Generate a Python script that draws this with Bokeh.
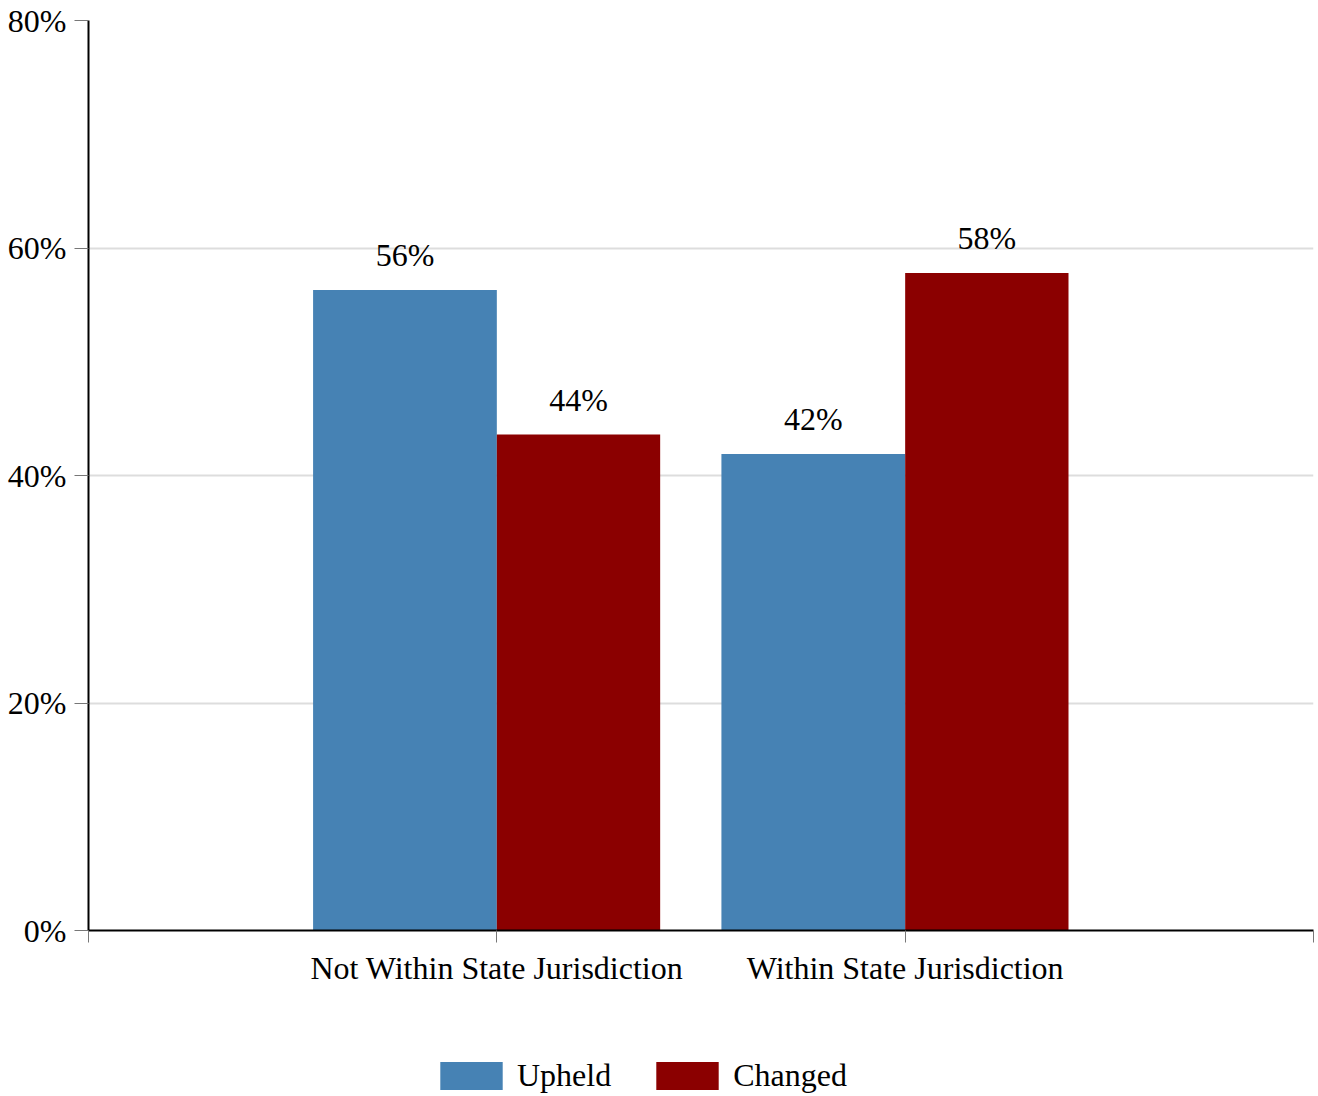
from bokeh.plotting import figure
from bokeh.layouts import column
from bokeh.models import (ColumnDataSource, FixedTicker, PrintfTickFormatter, Legend,
                          LegendItem, Range1d, LabelSet)
from bokeh.embed import file_html
from bokeh.resources import INLINE

# ---- data ----
categories = ["Not Within State Jurisdiction", "Within State Jurisdiction"]
series = ["Upheld", "Changed"]
upheld = [56.3, 41.9]
changed = [43.6, 57.8]
upheld_labels = ["56%", "42%"]
changed_labels = ["44%", "58%"]
y_ticks = [0, 20, 40, 60, 80]

# ---- styles ----
FONT = "Liberation Serif"
FS = "32px"
BLUE = "#4682B4"
RED = "#8B0000"
UPHELD_W = 0.45
CHANGED_W = 0.40

idx = [i + 1 for i in range(len(categories))]

src_u = ColumnDataSource(dict(
    x=[i - UPHELD_W / 2 for i in idx], top=upheld, lab=upheld_labels))
src_c = ColumnDataSource(dict(
    x=[i + CHANGED_W / 2 for i in idx], top=changed, lab=changed_labels))

p = figure(frame_width=1225, frame_height=910, output_backend="svg", toolbar_location=None,
           x_range=Range1d(0, len(categories) + 1), y_range=Range1d(0, 80),
           min_border_left=88, min_border_right=5, min_border_top=20,
           min_border_bottom=110)
p.outline_line_color = None
p.background_fill_color = "white"
p.border_fill_color = "white"

p.vbar(x="x", top="top", width=UPHELD_W, bottom=0, source=src_u,
       fill_color=BLUE, line_color=None)
p.vbar(x="x", top="top", width=CHANGED_W, bottom=0, source=src_c,
       fill_color=RED, line_color=None)

for src in (src_u, src_c):
    lbl = LabelSet(x="x", y="top", text="lab", source=src, text_align="center",
                   text_baseline="alphabetic", y_offset=24,
                   text_font=FONT, text_font_size=FS, text_color="black")
    p.add_layout(lbl)

# axes
p.xgrid.visible = False
p.ygrid.ticker = FixedTicker(ticks=y_ticks)
p.ygrid.grid_line_color = "#dddddd"
p.ygrid.grid_line_width = 2

xa = p.xaxis[0]
xa.ticker = FixedTicker(ticks=[0] + idx + [len(categories) + 1])
overrides = {0: "", len(categories) + 1: ""}
for i, c in zip(idx, categories):
    overrides[i] = c
xa.major_label_overrides = overrides
xa.axis_line_color = "black"
xa.axis_line_width = 2
xa.major_tick_line_color = "#777777"
xa.major_tick_out = 12
xa.major_tick_in = 0
xa.minor_tick_line_color = None
xa.major_label_text_font = FONT
xa.major_label_text_font_size = FS
xa.major_label_text_color = "black"
xa.major_label_standoff = 7

ya = p.yaxis[0]
ya.ticker = FixedTicker(ticks=y_ticks)
ya.formatter = PrintfTickFormatter(format="%d%%")
ya.axis_line_color = "black"
ya.axis_line_width = 2
ya.major_tick_line_color = "#777777"
ya.major_tick_out = 14
ya.major_tick_in = 0
ya.minor_tick_line_color = None
ya.major_label_text_font = FONT
ya.major_label_text_font_size = FS
ya.major_label_text_color = "black"
ya.major_label_standoff = 8

# ---- legend strip below the chart ----
lg = figure(width=1318, height=56, output_backend="svg", toolbar_location=None,
            x_range=Range1d(0, 1), y_range=Range1d(0, 1), min_border=0)
lg.axis.visible = False
lg.grid.visible = False
lg.outline_line_color = None
lg.border_fill_color = "white"
key_u = ColumnDataSource(dict(x=[float("nan")], top=[float("nan")]))
key_c = ColumnDataSource(dict(x=[float("nan")], top=[float("nan")]))
k_u = lg.vbar(x="x", top="top", width=0.1, source=key_u, fill_color=BLUE, line_color=None)
k_c = lg.vbar(x="x", top="top", width=0.1, source=key_c, fill_color=RED, line_color=None)

legend = Legend(items=[LegendItem(label=series[0], renderers=[k_u]),
                       LegendItem(label=series[1], renderers=[k_c])],
                orientation="horizontal", location=(344, 2),
                label_text_font=FONT, label_text_font_size=FS,
                label_text_color="black", label_height=35,
                glyph_width=78, glyph_height=35, label_standoff=7, spacing=37,
                border_line_color=None, background_fill_alpha=0,
                margin=0, padding=0)
lg.add_layout(legend, "center")

layout = column(p, lg, spacing=0)
open("out.html", "w").write(file_html(layout, INLINE))
